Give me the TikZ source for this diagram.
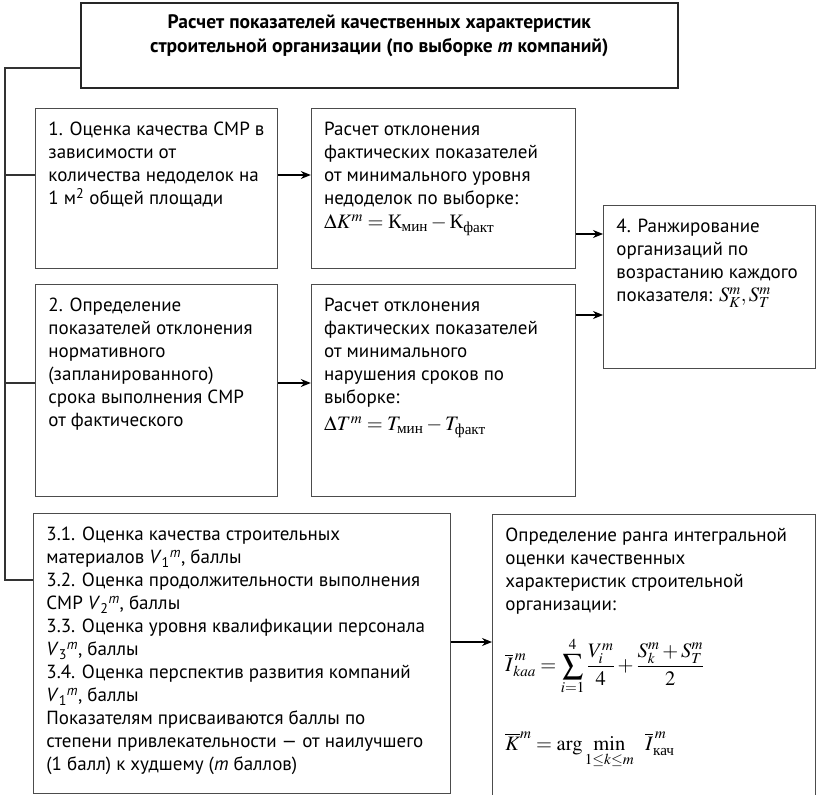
\documentclass[tikz,border=0pt]{standalone}
\usepackage{amsmath}
\usepackage{mathptmx}
\usepackage[no-math]{fontspec}
\setmainfont{PT Sans}
\newfontfamily\cyrserif{Liberation Serif}
\usetikzlibrary{positioning,arrows.meta}
\newcommand{\boxtxt}[3]{\begin{minipage}[t][#2][t]{#1}\raggedright #3\end{minipage}}
\newcommand{\cyr}[1]{\text{\cyrserif #1}}
\newcommand{\Vm}[1]{\textit{V}\textsubscript{#1}\textsuperscript{\textit{m}}}
\newcommand{\fml}{\fontsize{20.5}{23}\selectfont}

\begin{document}
\begin{tikzpicture}[
  x=1pt, y=-1pt,
  box/.style={draw=black!70, line width=0.8pt, anchor=north west, inner xsep=13pt, inner ysep=14pt, font=\fontsize{19}{23}\selectfont},
  headbox/.style={draw=black!85, line width=1.6pt, anchor=north west, inner xsep=13pt, inner ysep=12pt, font=\fontsize{19.5}{24}\selectfont\bfseries},
  link/.style={draw=black!80, line width=1.3pt},
  arrow/.style={->, >={Stealth[length=10pt,width=8pt]}, line width=1.2pt}
  ]
  \useasboundingbox (0,0) rectangle (818,794);

  % Заголовок
  \node[headbox] (head) at (80,2) {\boxtxt{571pt}{61pt}{\centering Расчет показателей качественных характеристик\\строительной организации (по выборке \textit{m} компаний)}};

  % Блоки 1 и 2
  \node[box] (crit1) at (35,108) {\boxtxt{216pt}{132pt}{1. Оценка качества СМР в\\зависимости от\\количества недоделок на\\1 м\textsuperscript{2} общей площади}};
  \node[box, below=15pt of crit1.south west, anchor=north west] (crit2) {\boxtxt{216pt}{184pt}{2. Определение\\показателей отклонения\\нормативного\\(запланированного)\\срока выполнения СМР\\от фактического}};

  % Отклонения
  \node[box, right=33pt of crit1.north east, anchor=north west] (devK) {\boxtxt{238pt}{132pt}{Расчет отклонения\\фактических показателей\\от минимального уровня\\недоделок по выборке:\\[1pt]{\fml$\Delta K^m=\cyr{К}_{\cyr{мин}}-\cyr{К}_{\cyr{факт}}$}}};
  \node[box, right=33pt of crit2.north east, anchor=north west] (devT) {\boxtxt{238pt}{184pt}{Расчет отклонения\\фактических показателей\\от минимального\\нарушения сроков по\\выборке:\\[4pt]{\fml$\Delta T^m=T_{\cyr{мин}}-T_{\cyr{факт}}$}}};

  % Ранжирование
  \node[box] (rank) at (603,205) {\boxtxt{186pt}{135pt}{4. Ранжирование\\организаций по\\возрастанию каждого\\показателя: {\fml$S^m_K, S^m_T$}}};

  % Балльная оценка
  \node[box] (score) at (33,513) {\boxtxt{391pt}{252pt}{3.1. Оценка качества строительных\\материалов \Vm{1}, баллы\\3.2. Оценка продолжительности выполнения\\СМР \Vm{2}, баллы\\3.3. Оценка уровня квалификации персонала\\\Vm{3}, баллы\\3.4. Оценка перспектив развития компаний\\\Vm{1}, баллы\\Показателям присваиваются баллы по\\степени привлекательности — от наилучшего\\(1 балл) к худшему (\textit{m} баллов)}};

  % Интегральная оценка
  \node[box] (integr) at (492,514) {\boxtxt{297pt}{256pt}{Определение ранга интегральной\\оценки качественных\\характеристик строительной\\организации:\par\vspace{22pt}
    {\fml$\displaystyle \overline{I}^{\,m}_{kaa}=\sum_{i=1}^{4}\frac{V_i^m}{4}+\frac{S_k^m+S_T^m}{2}$\par\vspace{36pt}
    $\displaystyle \overline{K}^m=\arg\min_{1\le k\le m}\;\; \overline{I}^{\,m}_{\cyr{кач}}$}}};

  % Соединительные линии
  \coordinate (s1) at (5,68);
  \coordinate (s2) at (5,175);
  \coordinate (s3) at (5,383);
  \coordinate (s4) at (5,580);
  \draw[link] (head.west |- s1) -- (s1) -- (s4) -- (score.west |- s4);
  \draw[link] (s2) -- (crit1.west |- s2);
  \draw[link] (s3) -- (crit2.west |- s3);

  % Стрелки
  \coordinate (r1) at (0,234);
  \coordinate (r2) at (0,315);
  \coordinate (r3) at (0,642);
  \draw[arrow] (crit1.east |- s2) -- (devK.west |- s2);
  \draw[arrow] (crit2.east |- s3) -- (devT.west |- s3);
  \draw[arrow] (devK.east |- r1) -- (rank.west |- r1);
  \draw[arrow] (devT.east |- r2) -- (rank.west |- r2);
  \draw[arrow] (score.east |- r3) -- (integr.west |- r3);
\end{tikzpicture}
\end{document}
